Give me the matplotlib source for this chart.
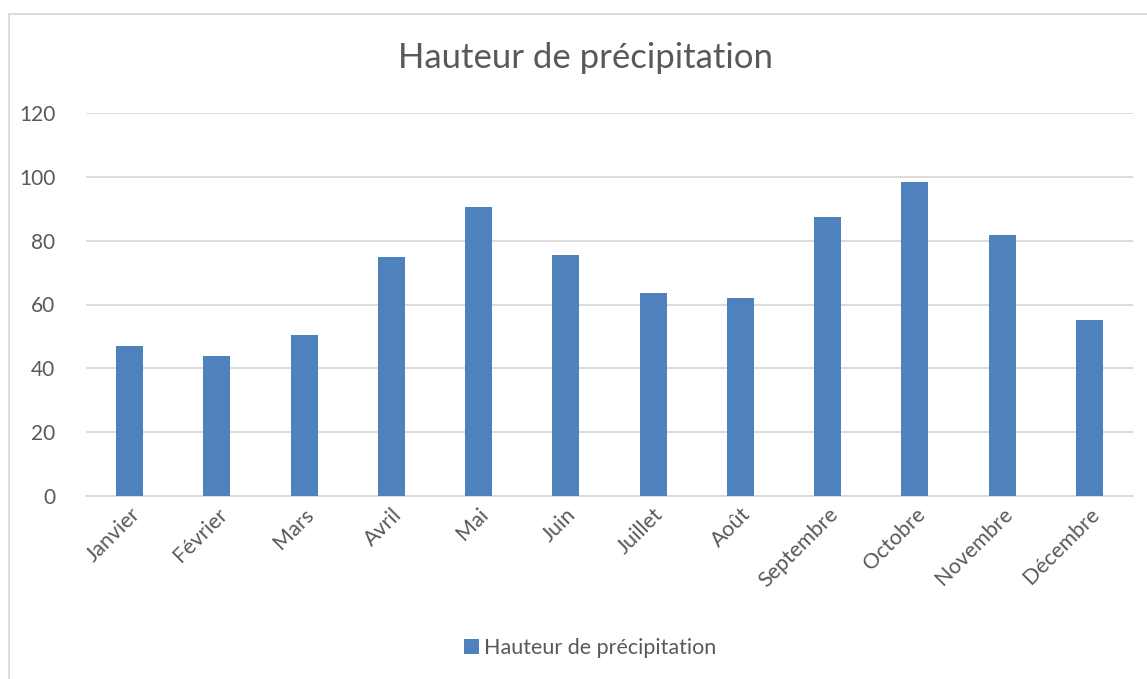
import matplotlib.pyplot as plt
from matplotlib.patches import Rectangle

months = ["Janvier", "Février", "Mars", "Avril", "Mai", "Juin", "Juillet",
          "Août", "Septembre", "Octobre", "Novembre", "Décembre"]
rain = [47.1, 43.9, 50.3, 74.9, 90.7, 75.5, 63.6, 62.0, 87.4, 98.4, 81.8, 55.2]
yticks = [0, 20, 40, 60, 80, 100, 120]

plt.rcParams['font.family'] = ['Lato', 'DejaVu Sans']
txt = '#595959'
blue = '#4f81bd'

fig = plt.figure(figsize=(11.47, 6.79), dpi=100)
ax = fig.add_axes([86 / 1147, 1 - 496 / 679, 1047 / 1147, 383 / 679])

x = range(len(months))
ax.bar(x, rain, width=0.31, color=blue, label="Hauteur de précipitation", zorder=3)

ax.set_xlim(-0.5, len(months) - 0.5)
ax.set_ylim(0, 120)
ax.set_yticks(yticks)
ax.set_yticklabels([str(v) for v in yticks], fontsize=15, color=txt)
ax.set_xticks(list(x))
ax.set_xticklabels(months, rotation=45, ha='right', rotation_mode='anchor',
                   fontsize=15.5, color=txt)
ax.tick_params(axis='both', length=0)
ax.tick_params(axis='y', pad=22)
ax.tick_params(axis='x', pad=6)
ax.grid(axis='y', color='#d9d9d9', linewidth=1.3, zorder=0)
for s in ['top', 'right', 'left']:
    ax.spines[s].set_visible(False)
ax.spines['bottom'].set_color('#d9d9d9')
ax.spines['bottom'].set_linewidth(1.3)

fig.text(586 / 1147, 1 - 58 / 679, "Hauteur de précipitation", ha='center', va='center',
         fontsize=25, color=txt)

fig.legend(loc='center', bbox_to_anchor=(590 / 1147, 1 - 648 / 679), frameon=False,
           fontsize=15.5, labelcolor=txt, handlelength=0.7, handleheight=0.7,
           handletextpad=0.2)

# chart area frame
fig.patches.append(Rectangle((9 / 1147, -0.05), 1.2, 1 - 14 / 679 + 0.05,
                             transform=fig.transFigure, fill=False,
                             edgecolor='#d9d9d9', linewidth=1.3))

fig.savefig("out.png", dpi=100)
